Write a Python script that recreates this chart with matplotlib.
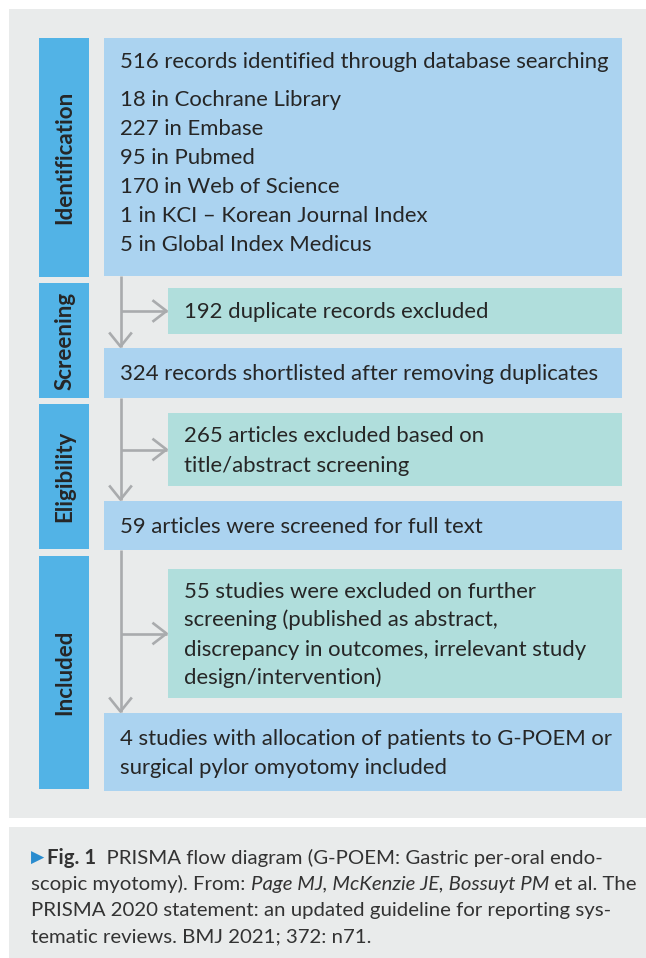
import matplotlib
matplotlib.use('Agg')
import matplotlib.pyplot as plt
from matplotlib.patches import Rectangle

plt.rcParams['font.family'] = ['Lato', 'DejaVu Sans']

# ---- content ----
stages = ['Identification', 'Screening', 'Eligibility', 'Included']
identifiedTotal = '516 records identified through database searching'
sources = ['18 in Cochrane Library', '227 in Embase', '95 in Pubmed',
           '170 in Web of Science', '1 in KCI – Korean Journal Index',
           '5 in Global Index Medicus']
kept = [['324 records shortlisted after removing duplicates'],
        ['59 articles were screened for full text'],
        ['4 studies with allocation of patients to G-POEM or',
         'surgical pylor omyotomy included']]
excluded = [['192 duplicate records excluded'],
            ['265 articles excluded based on', 'title/abstract screening'],
            ['55 studies were excluded on further',
             'screening (published as abstract,',
             'discrepancy in outcomes, irrelevant study',
             'design/intervention)']]
captionLines = [
    [('▶', 'mark'), ('Fig. 1', 'bold'), ('  PRISMA flow diagram (G-POEM: Gastric per-oral endo-', 'normal')],
    [('scopic myotomy). From: ', 'normal'), ('Page MJ, McKenzie JE, Bossuyt PM', 'italic'), (' et al. The', 'normal')],
    [('PRISMA 2020 statement: an updated guideline for reporting sys-', 'normal')],
    [('tematic reviews. BMJ 2021; 372: n71.', 'normal')],
]

# ---- layout (pixels, y downwards) ----
stageY = [(38, 277), (283, 398), (404, 549), (556, 789)]
mainY = [(38, 276), (348, 398), (501, 550), (713, 791)]
sideY = [(288, 334), (413, 486), (569, 698)]
stageX = (39, 89)
mainX = (104, 622)
sideX = (168, 622)
arrowX = 120.5
lineStep = 29

panelClr = '#e9ebeb'
stageClr = '#52b3e6'
mainClr = '#abd3f0'
sideClr = '#b0dedc'
arrowClr = '#a9abad'
textClr = '#262626'

fig = plt.figure(figsize=(6.46, 9.58), dpi=100)
ax = fig.add_axes([0, 0, 1, 1])
ax.set_xlim(0, 646)
ax.set_ylim(958, 0)
ax.axis('off')
renderer = fig.canvas.get_renderer()


def text_width(s, **kw):
    t = ax.text(0, 0, s, **kw)
    w = t.get_window_extent(renderer).width
    t.remove()
    return w


def fit_size(s, target, start=14, **kw):
    return start * target / text_width(s, fontsize=start, **kw)


# font sizes matched to the printed line lengths
fs = fit_size(identifiedTotal, 489)
labelFs = fit_size('Identification', 134, fontweight='bold')
capFs = fit_size(captionLines[2][0][0], 580)


def box(x, y, clr):
    ax.add_patch(Rectangle((x[0], y[0]), x[1] - x[0], y[1] - y[0], color=clr, lw=0))


def lines_in_box(x0, y, lines):
    mid = (y[0] + y[1]) / 2
    first = mid - (len(lines) - 1) * lineStep / 2
    for i, s in enumerate(lines):
        ax.text(x0, first + i * lineStep + 7.5, s, fontsize=fs, color=textClr,
                ha='left', va='baseline')


def arrow(x0, y0, x1, y1):
    ax.plot([x0, x1], [y0, y1], color=arrowClr, lw=1.9, solid_capstyle='butt')
    if x0 == x1:
        ax.plot([x1 - 10.5, x1, x1 + 10.5], [y1 - 13, y1, y1 - 13], color=arrowClr, lw=1.9)
    else:
        ax.plot([x1 - 13, x1, x1 - 13], [y1 - 10, y1, y1 + 10], color=arrowClr, lw=1.9)


# panels
ax.add_patch(Rectangle((9, 9), 637, 809, color=panelClr, lw=0))
ax.add_patch(Rectangle((9, 827), 637, 131, color=panelClr, lw=0))

# stage labels
for name, y in zip(stages, stageY):
    box(stageX, y, stageClr)
    ax.text((stageX[0] + stageX[1]) / 2 + 1, (y[0] + y[1]) / 2, name, rotation=90,
            fontsize=labelFs, fontweight='bold', color=textClr, ha='center', va='center')

# main boxes
box(mainX, mainY[0], mainClr)
ax.text(mainX[0] + 16, mainY[0][0] + 30, identifiedTotal, fontsize=fs, color=textClr,
        ha='left', va='baseline')
for i, s in enumerate(sources):
    ax.text(mainX[0] + 16, mainY[0][0] + 68 + i * lineStep, s, fontsize=fs,
            color=textClr, ha='left', va='baseline')
for lines, y in zip(kept, mainY[1:]):
    box(mainX, y, mainClr)
    lines_in_box(mainX[0] + 16, y, lines)

# excluded boxes and arrows
for i, (lines, y) in enumerate(zip(excluded, sideY)):
    box(sideX, y, sideClr)
    lines_in_box(sideX[0] + 16, y, lines)
    arrow(arrowX, mainY[i][1], arrowX, mainY[i + 1][0] - 1.5)
    arrow(arrowX, (y[0] + y[1]) / 2, sideX[0] - 1.5, (y[0] + y[1]) / 2)

# caption with mixed styles
styles = {
    'normal': dict(color='#333333'),
    'bold': dict(color='#333333', fontweight='bold'),
    'italic': dict(color='#333333', fontstyle='italic'),
    'mark': dict(color='#2a8ccf', family=['DejaVu Sans'], fontsize=capFs * 0.85),
}
for k, segs in enumerate(captionLines):
    x = 31
    yb = 864 + k * 26
    for s, st in segs:
        kw = dict(fontsize=capFs)
        kw.update(styles[st])
        ax.text(x, yb - (1 if st == 'mark' else 0), s, ha='left', va='baseline', **kw)
        # trailing spaces are not measured on their own, so measure against a bar
        w = text_width(s + '|', **kw) - text_width('|', **kw)
        x += w + (3 if st == 'mark' else 0)

fig.savefig('out.png', dpi=100)
